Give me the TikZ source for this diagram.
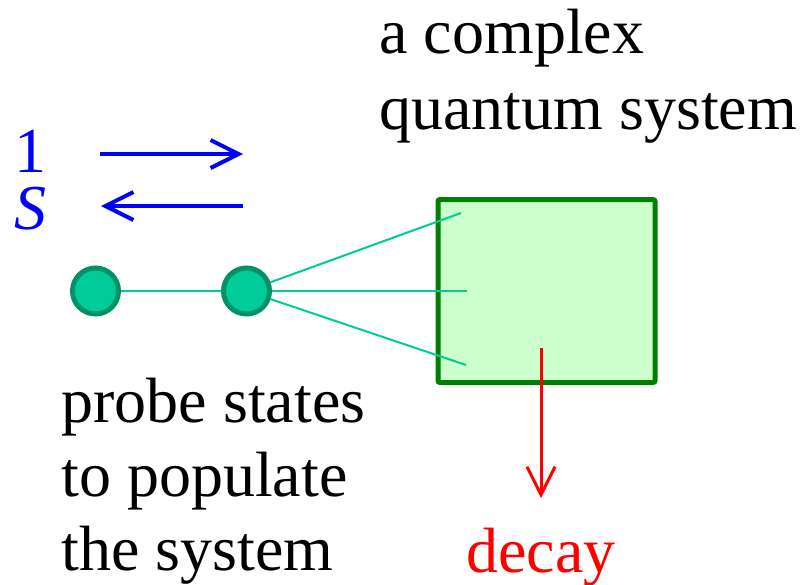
\documentclass[tikz,border=0pt]{standalone}
\usepackage{fontspec}
\setmainfont{Liberation Serif}
\usetikzlibrary{arrows.meta,positioning,calc}
\definecolor{ProbeGreen}{RGB}{0,204,153}
\definecolor{ProbeEdge}{RGB}{0,145,100}
\definecolor{BoxGreen}{RGB}{0,128,0}
\definecolor{BoxFill}{RGB}{204,255,204}

\begin{document}
\begin{tikzpicture}[x=.5pt,y=-.5pt,font=\fontsize{32}{37}\selectfont,
    probe/.style={circle,draw=ProbeEdge,fill=ProbeGreen,line width=2.5pt,
      minimum size=23pt,inner sep=0pt},
    couple/.style={ProbeGreen,line width=1pt},
    barb/.style={-{Straight Barb[length=14pt,width=14pt]}}]
  \useasboundingbox (0,0) rectangle (800,585);
  % the system and what leaves it
  \node[draw=BoxGreen,fill=BoxFill,line width=2.5pt,rounded corners=1pt,
    minimum width=108.5pt,minimum height=91.5pt,inner sep=0pt] (box) at (546.5,291) {};
  \node[anchor=north west,inner sep=0pt,align=left] (sys) at (379,9)
    {a complex\\[1pt]quantum system};
  \coordinate (dtop) at (541,348);
  \node[red,anchor=base,inner sep=0pt] (decay) at (541,572) {decay};
  \draw[red,line width=1.5pt,barb] (dtop) -- (541,498);
  % probe states
  \node[probe] (p1) at (95.5,291) {};
  \node[probe] (p2) at (246.5,291) {};
  \coordinate (in1) at (461,213);
  \coordinate (in2) at (467,291);
  \coordinate (in3) at (466,365);
  \draw[couple] (p1) -- (p2);
  \foreach \c in {in1,in2,in3}
    \draw[couple] (p2) -- (\c);
  \node[anchor=north west,inner sep=0pt,align=left] (probetxt) at (61,378)
    {probe states\\to populate\\the system};
  % 1 and S
  \node[blue,anchor=base,inner sep=0pt] (one) at (30,172) {1};
  \node[blue,anchor=base,inner sep=0pt] (ess) at (30,229) {\itshape S};
  \coordinate (aL) at (100,154);
  \coordinate (aR) at (243,154);
  \coordinate (bL) at (101,206);
  \coordinate (bR) at (243,206);
  \draw[blue,line width=2pt,barb] (aL) -- (aR);
  \draw[blue,line width=2pt,barb] (bR) -- (bL);
\end{tikzpicture}
\end{document}
